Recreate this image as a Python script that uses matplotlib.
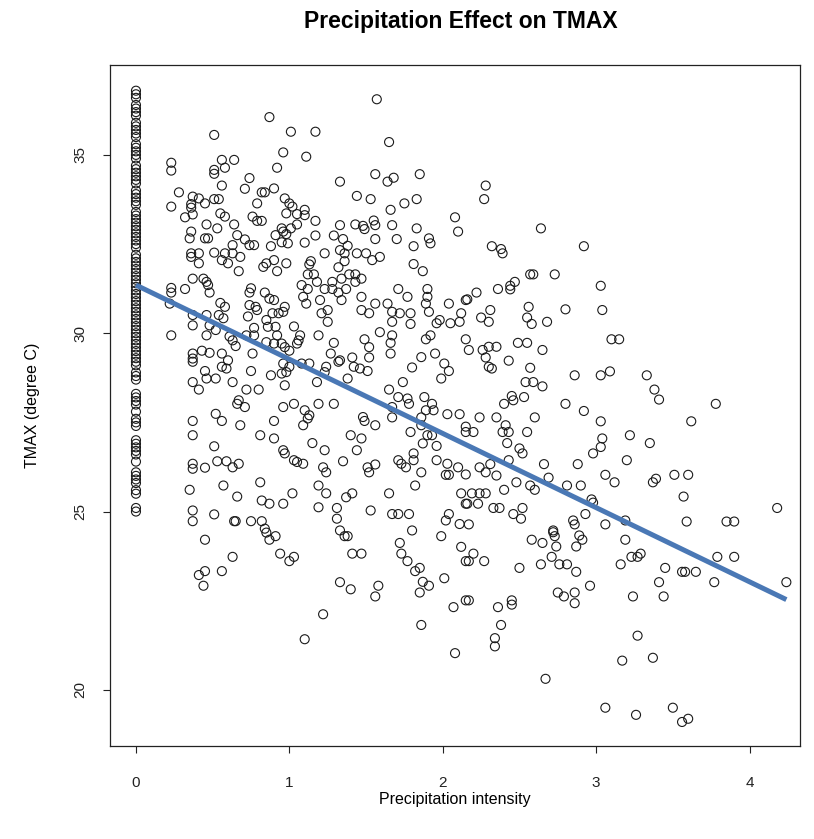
"""
Precipitation effect on TMAX - scatter with linear fit (R base-graphics look)
"""
import numpy as np
import matplotlib
matplotlib.use('Agg')
import matplotlib.pyplot as plt

plt.rcParams['font.family'] = ['Liberation Sans', 'DejaVu Sans']

# ============================================================
# Data
# ============================================================

# Days without rain (precipitation intensity = 0)
tmax_dry = [36.8, 36.7, 36.6, 36.4, 36.3, 36.2, 36.1, 35.9, 35.8, 35.7, 35.6, 35.5, 35.3,
            35.2, 35.1, 35.0, 34.9, 34.7, 34.6, 34.5, 34.4, 34.3, 34.2, 34.0, 33.9, 33.8,
            33.7, 33.6, 33.4, 33.3, 33.2, 33.1, 33.0, 32.9, 32.8, 32.7, 32.6, 32.5, 32.4,
            32.2, 32.1, 32.0, 31.9, 31.8, 31.7, 31.6, 31.5, 31.4, 31.3, 31.2, 31.1, 31.0,
            30.9, 30.8, 30.7, 30.6, 30.5, 30.4, 30.3, 30.2, 30.1, 30.0, 29.9, 29.8, 29.7,
            29.6, 29.5, 29.4, 29.3, 29.2, 29.1, 28.9, 28.8, 28.7,
            28.3, 28.2, 28.1, 28.0, 27.8, 27.6, 27.5, 27.4,
            27.0, 26.9, 26.8, 26.7, 26.6, 26.4,
            26.1, 26.0, 25.9, 25.8, 25.6, 25.5,
            25.1, 25.0]

# Rainy days: (precipitation intensity, TMAX)
wet_points = [
    (0.87, 36.06), (0.51, 35.56), (1.01, 35.65), (0.23, 34.78), (0.23, 34.56), (0.56, 34.86),
    (0.64, 34.86), (0.58, 34.64), (0.51, 34.58), (0.51, 34.47), (0.96, 35.07), (0.92, 34.64),
    (0.74, 34.35), (0.56, 34.14), (0.71, 34.05), (0.28, 33.95), (0.82, 33.95), (0.84, 33.95),
    (0.90, 34.06), (0.37, 33.83), (0.41, 33.78), (0.51, 33.76), (0.54, 33.76), (0.36, 33.62),
    (0.36, 33.52), (0.45, 33.64), (0.23, 33.55), (0.79, 33.64), (0.97, 33.78), (0.37, 33.33),
    (0.32, 33.25), (0.55, 33.36), (0.58, 33.27), (0.64, 33.05), (0.76, 33.27), (0.79, 33.15),
    (0.82, 33.15), (0.98, 33.36), (0.46, 33.05), (0.53, 32.94), (0.36, 32.85), (0.35, 32.66),
    (0.45, 32.66), (0.47, 32.66), (0.66, 32.75), (0.71, 32.63), (0.74, 32.47), (0.77, 32.47),
    (0.63, 32.47), (0.91, 32.75), (0.96, 32.85), (0.95, 32.94), (0.98, 32.78), (0.88, 32.44),
    (0.95, 32.55), (0.99, 32.52), (0.36, 32.24), (0.36, 32.14), (0.41, 32.24), (0.51, 32.26),
    (0.56, 32.05), (0.58, 32.24), (0.63, 32.24), (0.68, 32.14), (0.60, 31.96), (0.41, 31.96),
    (0.67, 31.74), (0.83, 31.86), (0.85, 31.96), (0.90, 32.05), (0.92, 31.74), (0.98, 31.96),
    (0.37, 31.53), (0.23, 31.27), (0.23, 31.14), (0.32, 31.24), (0.44, 31.53), (0.46, 31.44),
    (0.47, 31.35), (0.48, 31.14), (0.75, 31.26), (0.74, 31.14), (0.84, 31.14), (0.87, 30.97),
    (0.90, 30.93), (0.55, 30.85), (0.58, 30.74), (0.74, 30.79), (0.78, 30.74), (0.97, 30.74),
    (1.57, 36.56), (1.17, 35.65), (1.65, 35.36), (1.11, 34.95), (1.56, 34.46), (1.64, 34.25),
    (1.68, 34.36), (1.85, 34.46), (1.33, 34.25), (1.44, 33.85), (1.53, 33.76), (1.75, 33.64),
    (1.83, 33.76), (1.66, 33.46), (2.08, 33.25), (2.10, 32.85), (1.00, 33.64), (1.02, 33.55),
    (1.10, 33.46), (1.05, 33.34), (1.10, 33.31), (1.17, 33.15), (1.05, 33.05), (1.01, 32.94),
    (1.33, 33.03), (1.43, 33.05), (1.48, 33.01), (1.49, 32.92), (1.55, 33.16), (1.56, 33.03),
    (1.67, 33.03), (1.83, 32.94), (1.17, 32.74), (1.29, 32.74), (1.35, 32.64), (1.56, 32.64),
    (1.70, 32.64), (1.91, 32.66), (1.92, 32.52), (1.81, 32.44), (1.10, 32.54), (1.38, 32.45),
    (1.33, 32.33), (1.36, 32.24), (1.23, 32.24), (1.44, 32.24), (1.50, 32.24), (1.54, 32.05),
    (1.59, 32.14), (1.36, 32.02), (1.32, 31.85), (1.81, 31.94), (1.87, 31.74), (1.14, 32.02),
    (1.13, 31.93), (1.12, 31.65), (1.16, 31.65), (1.39, 31.65), (1.43, 31.65), (1.47, 31.53),
    (1.34, 31.53), (1.28, 31.44), (1.18, 31.44), (1.08, 31.35), (1.12, 31.24), (1.23, 31.24),
    (1.28, 31.24), (1.32, 31.14), (1.37, 31.24), (1.43, 31.44), (1.09, 31.02), (1.11, 30.83),
    (1.20, 30.93), (1.34, 30.93), (1.47, 31.02), (1.71, 31.24), (1.77, 31.02), (1.90, 31.24),
    (1.90, 31.02), (1.89, 30.83), (2.04, 30.83), (2.15, 30.93), (1.56, 30.83), (1.64, 30.83),
    (2.28, 34.14), (2.27, 33.76), (2.64, 32.94), (2.92, 32.44), (2.32, 32.44), (2.38, 32.36),
    (2.39, 32.24), (2.57, 31.65), (2.59, 31.65), (2.73, 31.65), (2.47, 31.44), (2.44, 31.33),
    (2.44, 31.23), (2.36, 31.24), (2.22, 31.14), (2.16, 30.95), (3.03, 31.33), (2.56, 30.74),
    (2.80, 30.67), (2.31, 30.65), (3.04, 30.65),
    (0.22, 30.83), (0.23, 29.94), (0.37, 30.51), (0.37, 30.22), (0.46, 30.51), (0.48, 30.22),
    (0.54, 30.51), (0.57, 30.42), (0.52, 30.09), (0.46, 29.94), (0.61, 29.91), (0.63, 29.80),
    (0.65, 29.64), (0.79, 30.65), (0.73, 30.47), (0.77, 30.15), (0.77, 29.94), (0.72, 29.94),
    (0.85, 30.37), (0.89, 30.56), (0.93, 30.56), (0.96, 30.60), (0.86, 30.18), (0.91, 30.18),
    (0.92, 29.94), (0.85, 29.75), (0.90, 29.71), (0.95, 29.71), (0.43, 29.51), (0.48, 29.45),
    (0.37, 29.43), (0.37, 29.29), (0.37, 29.20), (0.56, 29.43), (0.60, 29.24), (0.56, 29.06),
    (0.59, 29.01), (0.76, 29.43), (0.45, 28.94), (0.46, 28.73), (0.52, 28.73), (0.37, 28.63),
    (0.41, 28.42), (0.63, 28.63), (0.75, 28.94), (0.72, 28.42), (0.80, 28.42), (0.88, 28.82),
    (0.95, 28.87), (0.96, 29.15), (0.98, 28.91), (0.97, 28.54), (0.67, 28.12), (0.66, 28.02),
    (0.71, 27.93), (0.96, 27.93), (0.52, 27.74), (0.56, 27.54), (0.68, 27.42), (0.37, 27.54),
    (0.37, 27.14), (0.90, 27.54), (0.81, 27.14), (0.90, 27.05), (0.96, 26.72), (0.97, 26.63),
    (0.51, 26.83), (0.37, 26.34), (0.37, 26.20), (0.45, 26.23), (0.53, 26.41), (0.59, 26.41),
    (0.63, 26.24), (0.67, 26.34), (0.35, 25.61), (0.57, 25.73), (0.81, 25.82), (0.66, 25.42),
    (0.82, 25.31), (0.87, 25.22), (0.96, 25.22), (0.37, 25.03), (0.37, 24.73), (0.51, 24.92),
    (0.64, 24.73), (0.65, 24.73), (0.75, 24.73), (0.82, 24.73), (0.84, 24.52),
    (0.45, 24.21), (0.63, 23.73), (0.45, 23.33), (0.41, 23.22), (0.44, 22.92), (0.56, 23.33),
    (0.85, 24.41), (0.87, 24.21), (0.91, 24.31), (0.94, 23.82), (1.00, 23.61),
    (1.21, 30.56), (1.25, 30.65), (1.25, 30.32), (1.47, 30.65), (1.52, 30.56), (1.67, 30.60),
    (1.72, 30.56), (1.67, 30.32), (1.79, 30.56), (1.79, 30.26), (1.91, 30.60), (1.96, 30.28),
    (1.98, 30.37), (2.05, 30.28), (2.11, 30.32), (2.12, 30.56), (1.03, 30.19), (1.07, 29.94),
    (1.06, 29.80), (1.05, 29.71), (1.00, 29.51), (0.97, 29.61), (1.19, 29.94), (1.29, 29.73),
    (1.27, 29.43), (1.32, 29.20), (1.33, 29.24), (1.49, 29.83), (1.52, 29.61), (1.52, 29.32),
    (1.51, 28.94), (1.59, 30.03), (1.67, 29.94), (1.66, 29.73), (1.66, 29.43), (1.89, 29.83),
    (1.92, 29.94), (1.95, 29.43), (1.86, 29.33), (2.01, 29.15), (2.04, 28.94), (1.99, 28.73),
    (1.80, 29.04), (1.00, 29.06), (1.08, 29.15), (1.13, 29.15), (1.18, 28.63), (1.24, 29.06),
    (1.23, 28.91), (1.41, 29.32), (1.42, 29.06), (1.46, 29.01), (1.38, 28.73), (1.74, 28.63),
    (1.65, 28.42), (1.71, 28.21), (1.77, 28.17), (1.78, 28.02), (1.67, 27.93), (1.67, 27.64),
    (1.88, 28.21), (1.93, 28.02), (1.89, 27.84), (1.94, 27.84), (1.86, 27.64), (1.86, 27.42),
    (1.90, 27.14), (1.93, 27.14), (1.87, 26.91), (2.03, 27.73), (2.11, 27.73), (2.15, 27.38),
    (2.15, 27.23), (1.96, 26.84), (1.03, 28.02), (1.10, 27.84), (1.13, 27.70), (1.12, 27.61),
    (1.09, 27.42), (1.19, 28.02), (1.29, 28.02), (1.48, 27.65), (1.49, 27.54), (1.56, 27.42),
    (1.40, 27.14), (1.47, 27.05), (1.44, 26.72), (1.15, 26.92), (1.23, 26.72), (1.79, 27.23),
    (1.03, 26.44), (1.05, 26.39), (1.09, 26.34), (1.35, 26.41), (1.22, 26.24), (1.24, 26.10),
    (1.51, 26.24), (1.52, 26.10), (1.56, 26.32), (1.71, 26.44), (1.73, 26.34), (1.76, 26.24),
    (1.81, 26.63), (1.81, 26.44), (1.86, 26.10), (1.96, 26.44), (2.03, 26.34), (2.02, 26.03),
    (2.04, 26.03), (2.10, 26.24), (1.19, 25.73), (1.24, 25.51), (1.02, 25.51), (1.41, 25.51),
    (1.37, 25.40), (1.65, 25.51), (1.82, 25.73), (2.12, 25.51), (2.15, 25.22), (1.19, 25.12),
    (1.31, 25.10), (1.31, 24.80), (1.53, 25.03), (1.67, 24.93), (1.71, 24.93), (1.78, 24.93),
    (2.04, 24.93), (2.02, 24.75), (2.11, 24.65), (1.33, 24.47), (1.80, 24.47),
    (1.36, 24.31), (1.38, 24.31), (1.72, 24.12), (1.73, 23.82), (1.77, 23.61), (1.82, 23.33),
    (1.85, 23.42), (1.87, 23.03), (1.91, 22.92), (1.85, 22.73), (1.41, 23.82), (1.47, 23.82),
    (1.03, 23.73), (1.33, 23.02), (1.40, 22.82), (1.58, 22.92), (1.56, 22.62), (1.22, 22.12),
    (1.10, 21.42), (1.86, 21.82), (1.99, 24.31), (2.12, 24.01), (2.15, 23.61), (2.01, 23.13),
    (2.07, 22.32), (2.08, 21.03), (2.15, 22.51),
    (2.55, 30.44), (2.58, 30.26), (2.68, 30.32), (2.25, 30.44), (2.30, 30.32), (2.15, 29.83),
    (2.17, 29.53), (2.26, 29.53), (2.30, 29.62), (2.35, 29.62), (2.28, 29.32), (2.30, 29.06),
    (2.32, 29.01), (2.49, 29.73), (2.55, 29.73), (2.65, 29.53), (2.43, 29.23), (2.57, 29.03),
    (3.10, 29.83), (3.15, 29.83), (2.54, 28.63), (2.59, 28.63), (2.65, 28.51), (2.86, 28.82),
    (3.03, 28.82), (3.09, 28.93), (2.45, 28.24), (2.46, 28.12), (2.40, 28.02), (2.53, 28.21),
    (2.80, 28.02), (2.92, 27.82), (3.03, 27.53), (2.24, 27.64), (2.35, 27.64), (2.60, 27.64),
    (2.20, 27.23), (2.39, 27.23), (2.43, 27.23), (2.41, 27.42), (2.42, 26.92), (2.55, 27.23),
    (2.50, 26.77), (2.52, 26.63), (3.22, 27.14), (3.04, 27.05), (3.03, 26.81), (2.98, 26.63),
    (3.20, 26.44), (2.88, 26.33), (2.66, 26.33), (2.43, 26.44), (2.31, 26.33), (2.24, 26.24),
    (2.28, 26.10), (2.15, 26.04), (2.35, 26.01), (2.69, 25.95), (2.57, 25.73), (2.60, 25.61),
    (2.48, 25.82), (2.40, 25.61), (3.06, 26.03), (3.12, 25.82), (2.81, 25.73), (2.90, 25.73),
    (2.19, 25.51), (2.24, 25.51), (2.28, 25.51), (2.16, 25.22), (2.23, 25.22), (2.33, 25.10),
    (2.37, 25.10), (2.46, 24.93), (2.52, 25.10), (2.51, 24.80), (2.97, 25.34), (2.98, 25.25),
    (2.93, 24.93), (2.85, 24.75), (2.86, 24.64), (3.06, 24.64), (3.19, 24.75), (2.17, 24.64),
    (2.72, 24.47),
    (2.20, 23.82), (2.17, 23.61), (2.27, 23.61), (2.58, 24.21), (2.65, 24.12), (2.50, 23.42),
    (2.64, 23.52), (2.72, 24.42), (2.73, 24.31), (2.74, 24.02), (2.71, 23.73), (2.76, 23.52),
    (2.81, 23.52), (2.89, 24.33), (2.91, 24.21), (2.87, 24.02), (2.87, 23.31), (2.96, 22.92),
    (3.19, 24.21), (3.23, 23.73), (3.27, 23.73), (3.16, 23.52), (2.17, 22.51), (2.36, 22.32),
    (2.45, 22.51), (2.45, 22.39), (2.38, 21.82), (2.34, 21.45), (2.34, 21.22), (2.75, 22.73),
    (2.79, 22.62), (2.86, 22.73), (2.86, 22.43), (3.24, 22.62), (3.27, 21.52), (3.17, 20.82),
    (2.67, 20.31), (3.06, 19.50), (3.26, 19.30),
    (3.33, 28.82), (3.38, 28.42), (3.41, 28.14), (3.78, 28.02), (3.62, 27.53), (3.35, 26.92),
    (3.39, 25.92), (3.37, 25.82), (3.51, 26.03), (3.60, 26.03), (3.57, 25.42), (4.18, 25.10),
    (3.59, 24.72), (3.85, 24.72), (3.90, 24.72),
    (3.29, 23.82), (3.45, 23.42), (3.41, 23.02), (3.44, 22.62), (3.56, 23.31), (3.58, 23.31),
    (3.65, 23.31), (3.79, 23.73), (3.90, 23.73), (3.77, 23.02), (4.24, 23.02), (3.37, 20.90),
    (3.50, 19.50), (3.60, 19.19), (3.56, 19.10),
]

# Fitted line (lm)
FIT_INTERCEPT = 31.35
FIT_SLOPE = -2.08

x_ticks = [0, 1, 2, 3, 4]
y_ticks = [20, 25, 30, 35]

# ============================================================
# Build arrays
# ============================================================
wet = np.array(wet_points)
precip = np.concatenate([np.zeros(len(tmax_dry)), wet[:, 0]])
tmax = np.concatenate([np.array(tmax_dry), wet[:, 1]])

# ============================================================
# Figure
# ============================================================
fig = plt.figure(figsize=(8.14, 8.39), dpi=100)
ax = fig.add_axes([0.135, 0.111, 0.848, 0.8115])

ax.scatter(precip, tmax, s=42, facecolors='none', edgecolors='#1a1a1a',
           linewidths=0.8, zorder=2)

x_fit = np.array([0, precip.max()])
ax.plot(x_fit, FIT_INTERCEPT + FIT_SLOPE * x_fit, color='#4a78b5',
        linewidth=3.6, solid_capstyle='butt', zorder=3)

ax.set_xlim(-0.17, 4.33)
ax.set_ylim(18.43, 37.52)
ax.set_xticks(x_ticks)
ax.set_yticks(y_ticks)
ax.tick_params(direction='out', length=5, width=0.8, labelsize=11, colors='#222222')
ax.tick_params(axis='x', pad=17)
ax.tick_params(axis='y', pad=11)
for lbl in ax.get_yticklabels():
    lbl.set_rotation(90)
    lbl.set_va('center')
for sp in ax.spines.values():
    sp.set_linewidth(0.9)
    sp.set_color('#222222')

ax.set_xlabel('Precipitation intensity', fontsize=11.5, va='center')
ax.xaxis.set_label_coords(0.5, -0.0793)
ax.set_ylabel('TMAX (degree C)', fontsize=11.5, va='center')
ax.yaxis.set_label_coords(-0.1116, 0.5)
ax.text(0.508, 1.064, 'Precipitation Effect on TMAX', transform=ax.transAxes,
        ha='center', va='center', fontsize=16.5, fontweight='bold')

plt.savefig('out.png', dpi=100)
